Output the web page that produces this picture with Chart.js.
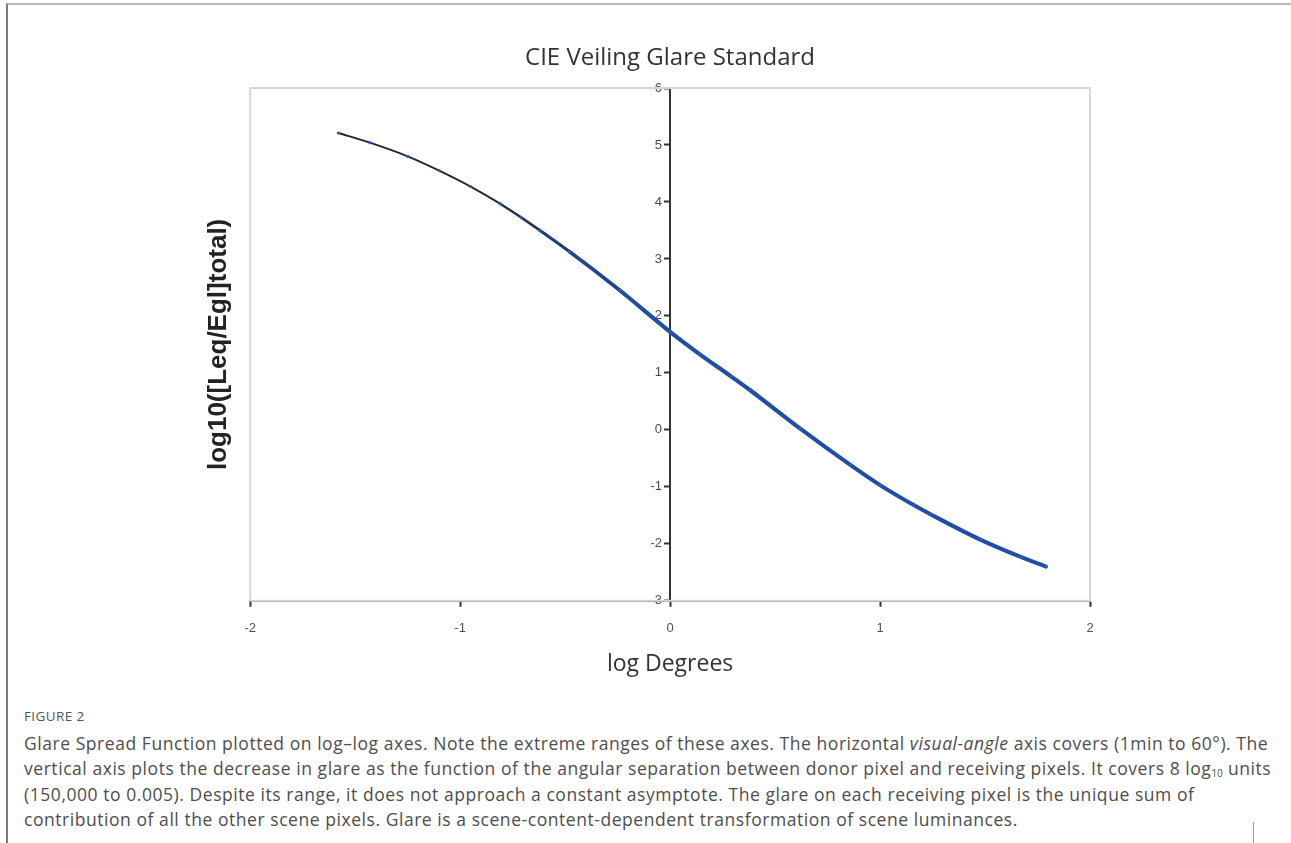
<!DOCTYPE html>
<html>
<head>
<meta charset="utf-8">
<script src="https://cdn.jsdelivr.net/npm/chart.js@4/dist/chart.umd.min.js"></script>
<style>
  html, body { margin: 0; padding: 0; background: #fff; }
  body { width: 1291px; height: 843px; position: relative; overflow: hidden; }
  .frame { position: absolute; left: 6px; top: 3px; right: 0; bottom: 0;
           border-top: 2px solid #b9b9b9; border-left: 2px solid #7a7a7a; }
  .edge { position: absolute; left: 1253px; top: 822px; width: 1px; height: 21px; background: #9a9a9a; }
  #wrap { position: absolute; left: 0; top: 0; width: 1291px; height: 681px; }
  .cap { position: absolute; left: 24px; top: 705px; font-family: "Open Sans", sans-serif; color: #4d4d4d; }
  .cap .fig { font-size: 13.5px; letter-spacing: 0.4px; color: #555; height: 26px; line-height: 22px; }
  .cap .txt { font-size: 17.5px; letter-spacing: 0.55px; line-height: 25.3px; white-space: nowrap; }
  .cap sub { font-size: 10px; letter-spacing: 0; vertical-align: -2px; line-height: 0; }
</style>
</head>
<body>
<div class="frame"></div>
<div class="edge"></div>
<div id="wrap"><canvas id="c" width="1291" height="681"></canvas></div>
<div class="cap">
  <div class="fig">FIGURE 2</div>
  <div class="txt">Glare Spread Function plotted on log–log axes. Note the extreme ranges of these axes. The horizontal <i>visual-angle</i> axis covers (1min to 60°). The<br>vertical axis plots the decrease in glare as the function of the angular separation between donor pixel and receiving pixels. It covers 8 log<sub>10</sub> units<br>(150,000 to 0.005). Despite its range, it does not approach a constant asymptote. The glare on each receiving pixel is the unique sum of<br>contribution of all the other scene pixels. Glare is a scene-content-dependent transformation of scene luminances.</div>
</div>
<script>
// Glare spread function: log10 visual angle (degrees) vs log10 glare ratio
const logDegrees = [-1.58, -1.43, -1.25, -1.10, -0.95, -0.81, -0.71, -0.62, -0.48, -0.24,
                    0.00, 0.14, 0.29, 0.38, 0.62, 0.86, 1.00, 1.16, 1.24, 1.48, 1.67, 1.79];
const logGlare   = [5.21, 5.04, 4.80, 4.55, 4.27, 3.97, 3.73, 3.50, 3.13, 2.45,
                    1.72, 1.33, 0.94, 0.70, 0.02, -0.62, -0.97, -1.32, -1.48, -1.93, -2.23, -2.40];
const xTickValues = [-2, -1, 0, 1, 2];
const yTickValues = [-3, -2, -1, 0, 1, 2, 3, 4, 5, 6];

const points = logDegrees.map((x, i) => ({ x: x, y: logGlare[i] }));

// mix the trace from dark grey (sparse markers) to solid blue (dense markers)
function mix(t) {
  const a = [38, 38, 46], b = [31, 78, 168];
  const c = a.map((v, k) => Math.round(v + (b[k] - v) * t));
  return `rgb(${c[0]},${c[1]},${c[2]})`;
}
function blend(x) { return Math.max(0, Math.min(1, (x + 0.95) / 0.6)); }

// light grey plot frame around the chart area
const plotFrame = {
  id: 'plotFrame',
  beforeDatasetsDraw(chart) {
    const a = chart.chartArea, g = chart.ctx;
    g.save();
    g.strokeStyle = '#d6d6d6';
    g.lineWidth = 2;
    g.strokeRect(a.left, a.top, a.right - a.left, a.bottom - a.top);
    g.restore();
  }
};

const tickFont = { family: 'Liberation Sans', size: 13 };

new Chart(document.getElementById('c'), {
  type: 'line',
  data: {
    datasets: [{
      data: points,
      showLine: true,
      cubicInterpolationMode: 'monotone',
      borderCapStyle: 'round',
      borderJoinStyle: 'round',
      borderColor: '#1f4ea8',
      borderWidth: 3,
      segment: {
        borderColor: ctx => mix(blend(ctx.p0.parsed.x)),
        borderWidth: ctx => 1.9 + 2.2 * blend(ctx.p0.parsed.x)
      },
      pointRadius: 1.6,
      pointBorderWidth: 0,
      pointBackgroundColor: '#2d5bb8'
    }]
  },
  options: {
    responsive: false,
    animation: false,
    devicePixelRatio: 1,
    layout: { padding: { left: 199, right: 150, top: 0, bottom: 0 } },
    plugins: {
      legend: { display: false },
      tooltip: { enabled: false },
      title: {
        display: true,
        text: 'CIE Veiling Glare Standard',
        color: '#333',
        font: { family: 'Open Sans', size: 24, weight: 'normal' },
        padding: { top: 43.6, bottom: 15.6 }
      }
    },
    scales: {
      x: {
        type: 'linear',
        min: -2, max: 2,
        afterBuildTicks: s => { s.ticks = xTickValues.map(v => ({ value: v })); },
        ticks: { color: '#505050', font: tickFont, padding: 14 },
        grid: { display: true, drawOnChartArea: false, drawTicks: true, tickLength: 6, color: '#333', tickWidth: 2 },
        border: { display: true, color: '#333', width: 2 },
        title: {
          display: true, text: 'log Degrees', color: '#333',
          font: { family: 'Open Sans', size: 23 },
          padding: { top: 0, bottom: 3 }
        }
      },
      y: {
        type: 'linear',
        position: 'center',
        min: -3, max: 6,
        afterBuildTicks: s => { s.ticks = yTickValues.map(v => ({ value: v })); },
        ticks: { color: '#4a4a4a', font: tickFont, padding: 3 },
        grid: { display: true, drawOnChartArea: false, drawTicks: true, tickLength: 5, color: '#333', tickWidth: 2 },
        border: { display: true, color: '#333', width: 2 }
      },
      yTitle: {
        type: 'linear',
        axis: 'y',
        position: 'left',
        ticks: { display: false },
        grid: { display: false, drawTicks: false },
        border: { display: false },
        title: {
          display: true, text: 'log10([Leq/Egl]total)', color: '#222',
          font: { family: 'Liberation Sans', size: 26, weight: 'bold' },
          padding: { top: 4, bottom: 16 }
        }
      },
      // empty right-hand margin so the title centres over the plot
      yMargin: {
        type: 'linear',
        axis: 'y',
        position: 'right',
        ticks: { display: false },
        grid: { display: false, drawTicks: true, tickLength: 51 },
        border: { display: false }
      }
    }
  },
  plugins: [plotFrame]
});
</script>
</body>
</html>
